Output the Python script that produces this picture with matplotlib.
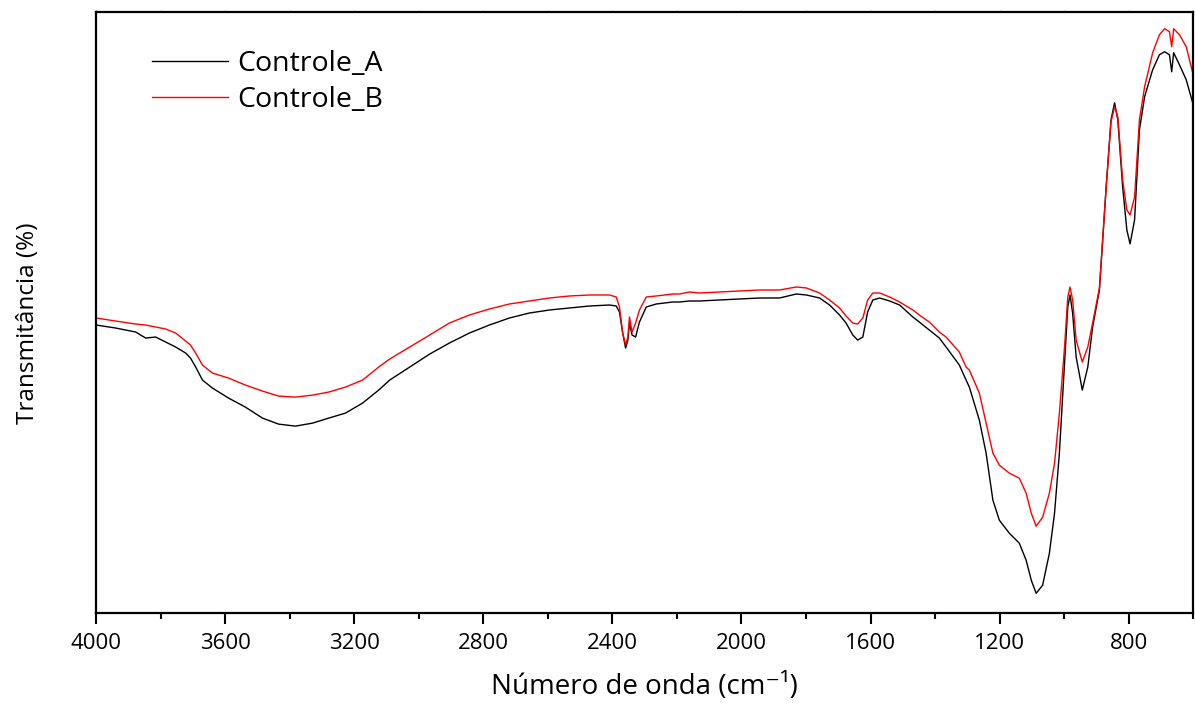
import matplotlib
matplotlib.use("Agg")
import matplotlib.pyplot as plt
from matplotlib.ticker import MultipleLocator

plt.rcParams['font.family'] = ['Open Sans', 'DejaVu Sans']

# FTIR spectra: wavenumber (cm-1) and transmittance (arbitrary %)
wavenumber = [4000, 3939, 3877, 3846, 3815, 3784, 3753, 3722, 3707, 3691,
              3670, 3639, 3589, 3537, 3484, 3434, 3382, 3329, 3279, 3227,
              3174, 3124, 3090, 3028, 2966, 2905, 2843, 2781, 2719, 2657,
              2595, 2533, 2471, 2409, 2388, 2378, 2368, 2359, 2352, 2347,
              2339, 2328, 2316, 2295, 2264, 2213, 2192, 2161, 2130, 2068,
              2006, 1944, 1882, 1830, 1799, 1758, 1727, 1696, 1676, 1655,
              1640, 1624, 1609, 1593, 1572, 1541, 1510, 1469, 1449, 1418,
              1387, 1366, 1325, 1304, 1294, 1263, 1242, 1221, 1201, 1170,
              1139, 1118, 1102, 1087, 1067, 1046, 1030, 1015, 999, 989,
              982, 974, 963, 944, 927, 912, 891, 870, 855, 844,
              834, 819, 806, 796, 782, 767, 751, 726, 705, 689,
              674, 667, 661, 643, 622, 602]

controle_a = [29.2, 28.9, 28.5, 27.9, 28.0, 27.5, 27.0, 26.4, 25.9, 25.0,
              23.7, 22.9, 21.9, 21.0, 19.9, 19.3, 19.1, 19.4, 19.9, 20.4,
              21.4, 22.7, 23.7, 25.0, 26.3, 27.4, 28.4, 29.2, 29.9, 30.4,
              30.7, 30.9, 31.1, 31.2, 31.1, 30.5, 28.4, 26.9, 27.7, 29.4,
              28.2, 28.0, 29.5, 31.0, 31.3, 31.5, 31.5, 31.6, 31.6, 31.7,
              31.8, 31.9, 31.9, 32.3, 32.2, 31.9, 31.2, 30.2, 29.4, 28.2,
              27.7, 28.0, 30.5, 31.7, 31.9, 31.6, 31.2, 30.0, 29.5, 28.7,
              27.9, 27.0, 25.2, 23.7, 23.0, 19.7, 16.4, 11.7, 9.7, 8.4,
              7.4, 5.7, 3.7, 2.4, 3.2, 6.4, 10.4, 16.4, 25.4, 31.0,
              32.2, 30.4, 26.0, 22.7, 25.0, 29.0, 32.7, 43.0, 49.7, 51.4,
              49.7, 43.0, 38.7, 37.3, 39.7, 48.7, 52.0, 54.7, 56.2, 56.5,
              56.2, 54.5, 56.4, 55.2, 53.7, 51.4]

controle_b = [29.9, 29.6, 29.3, 29.2, 29.0, 28.8, 28.4, 27.6, 27.2, 26.4,
              25.2, 24.4, 23.9, 23.2, 22.6, 22.1, 22.0, 22.2, 22.5, 23.0,
              23.7, 25.0, 25.8, 27.0, 28.2, 29.4, 30.2, 30.8, 31.3, 31.6,
              31.9, 32.1, 32.2, 32.2, 32.0, 31.0, 28.4, 27.2, 28.0, 30.0,
              28.5, 29.4, 30.7, 32.0, 32.1, 32.3, 32.3, 32.5, 32.4, 32.5,
              32.6, 32.7, 32.7, 33.0, 32.9, 32.4, 31.7, 30.9, 30.1, 29.4,
              29.3, 29.9, 31.7, 32.4, 32.4, 32.0, 31.5, 30.7, 30.2, 29.5,
              28.5, 28.0, 26.5, 25.0, 24.7, 22.4, 19.4, 16.4, 15.2, 14.4,
              13.9, 12.4, 10.4, 9.1, 10.0, 12.4, 15.4, 20.4, 27.0, 32.0,
              33.0, 31.7, 27.7, 25.5, 27.0, 29.4, 32.9, 43.0, 49.5, 51.0,
              50.0, 43.7, 40.7, 40.2, 42.0, 49.7, 53.0, 56.4, 58.2, 58.8,
              58.5, 57.0, 58.8, 58.2, 57.0, 54.4]

series_labels = ["Controle_A", "Controle_B"]
series_colors = ["#000000", "#ff0000"]

fig = plt.figure(figsize=(11.95, 7.13), dpi=100)
ax = fig.add_axes([0.0803, 0.1398, 0.9183, 0.8438])

for values, label, color in zip([controle_a, controle_b], series_labels, series_colors):
    ax.plot(wavenumber, values, color=color, lw=1.0, label=label)

ax.set_xlim(4000, 600)
ax.set_ylim(0.4, 60.5)

ax.xaxis.set_major_locator(MultipleLocator(400))
ax.xaxis.set_minor_locator(MultipleLocator(200))
ax.set_yticks([])
ax.tick_params(axis='x', which='major', direction='out', length=8, width=1.5,
               labelsize=16, pad=6)
ax.tick_params(axis='x', which='minor', direction='out', length=4.5, width=1.5)

# faint ticks along the top edge
top = ax.secondary_xaxis('top')
top.xaxis.set_major_locator(MultipleLocator(200))
top.tick_params(axis='x', which='major', direction='out', length=1.5, width=0.6,
                colors='#888888', labeltop=False)
top.spines['top'].set_visible(False)

for sp in ax.spines.values():
    sp.set_linewidth(1.6)

ax.set_xlabel("Número de onda (cm⁻¹)", fontsize=20, labelpad=14)
ax.set_ylabel("Transmitância (%)", fontsize=17.5)
ax.yaxis.set_label_coords(-0.051, 0.4825)

ax.legend(loc='upper left', bbox_to_anchor=(0.051, 0.937), frameon=False,
          fontsize=20.5, handlelength=2.67, handletextpad=0.32, labelspacing=0.3,
          borderpad=0, borderaxespad=0)

fig.savefig("out.png", dpi=100)
